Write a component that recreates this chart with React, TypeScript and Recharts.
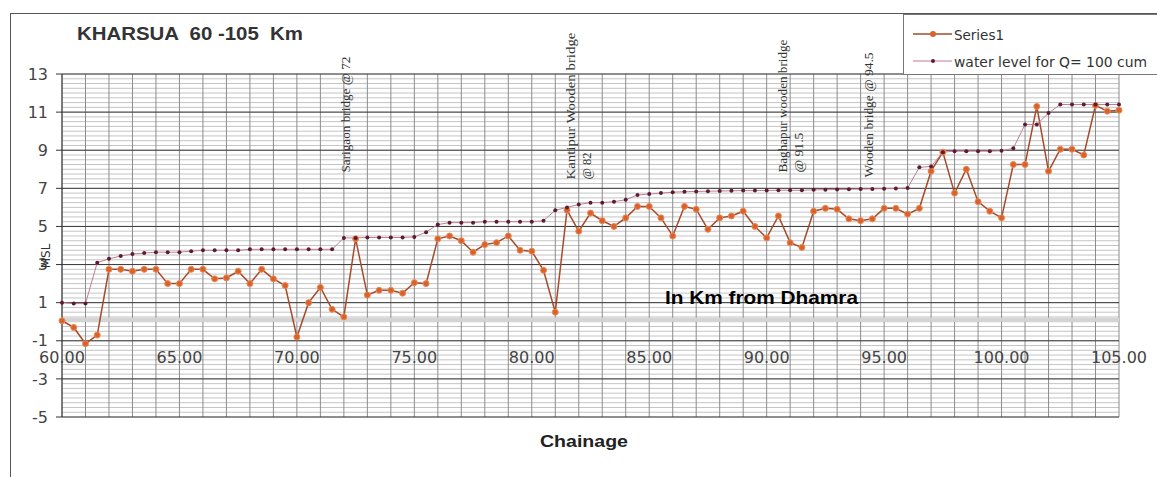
import React from 'react';
import { LineChart, Line, XAxis, YAxis, CartesianGrid, ReferenceLine, ReferenceDot } from 'recharts';

const chainage = [
  60, 60.5, 61, 61.5, 62, 62.5, 63, 63.5, 64, 64.5, 65, 65.5, 66, 66.5, 67, 67.5, 68, 68.5, 69, 69.5,
  70, 70.5, 71, 71.5, 72, 72.5, 73, 73.5, 74, 74.5, 75, 75.5, 76, 76.5, 77, 77.5, 78, 78.5, 79, 79.5,
  80, 80.5, 81, 81.5, 82, 82.5, 83, 83.5, 84, 84.5, 85, 85.5, 86, 86.5, 87, 87.5, 88, 88.5, 89, 89.5,
  90, 90.5, 91, 91.5, 92, 92.5, 93, 93.5, 94, 94.5, 95, 95.5, 96, 96.5, 97, 97.5, 98, 98.5, 99, 99.5,
  100, 100.5, 101, 101.5, 102, 102.5, 103, 103.5, 104, 104.5, 105,
];

const series1 = [
  0.05, -0.3, -1.15, -0.7, 2.75, 2.75, 2.65, 2.75, 2.75, 2.0, 2.0, 2.75, 2.75, 2.25, 2.3, 2.65, 2.0, 2.75, 2.25, 1.9,
  -0.8, 1.0, 1.8, 0.65, 0.25, 4.35, 1.4, 1.65, 1.65, 1.5, 2.05, 2.0, 4.35, 4.5, 4.25, 3.65, 4.05, 4.15, 4.5, 3.75,
  3.7, 2.7, 0.5, 5.85, 4.75, 5.7, 5.3, 5.0, 5.45, 6.05, 6.05, 5.45, 4.5, 6.05, 5.9, 4.85, 5.45, 5.55, 5.8, 5.0,
  4.4, 5.55, 4.15, 3.9, 5.8, 5.95, 5.9, 5.4, 5.3, 5.4, 5.95, 5.95, 5.65, 5.95, 7.9, 8.9, 6.75, 8.0, 6.3, 5.8,
  5.45, 8.25, 8.25, 11.3, 7.9, 9.05, 9.05, 8.75, 11.35, 11.05, 11.1,
];

const waterLevel = [
  1.0, 0.95, 0.95, 3.1, 3.3, 3.45, 3.55, 3.6, 3.65, 3.65, 3.65, 3.7, 3.75, 3.75, 3.75, 3.75, 3.8, 3.8, 3.8, 3.8,
  3.8, 3.8, 3.8, 3.8, 4.4, 4.4, 4.42, 4.42, 4.42, 4.42, 4.45, 4.7, 5.1, 5.2, 5.2, 5.2, 5.25, 5.25, 5.25, 5.25,
  5.25, 5.3, 5.85, 6.0, 6.15, 6.25, 6.25, 6.3, 6.4, 6.65, 6.7, 6.75, 6.8, 6.82, 6.84, 6.85, 6.86, 6.87, 6.88, 6.88,
  6.89, 6.9, 6.9, 6.9, 6.92, 6.93, 6.94, 6.95, 6.96, 6.97, 6.98, 6.99, 7.02, 8.1, 8.15, 8.9, 8.95, 8.95, 8.95, 8.95,
  8.97, 9.1, 10.35, 10.35, 10.95, 11.4, 11.4, 11.4, 11.4, 11.4, 11.4,
];

const xTicks = [60, 65, 70, 75, 80, 85, 90, 95, 100, 105];
const yTicks = [-5, -3, -1, 1, 3, 5, 7, 9, 11, 13];

// bridge annotations: chainage position, starting level, text lines
const bridgeKm = [72.24, 81.83, 90.86, 94.52];
const bridgeLevel = [7.83, 7.46, 7.83, 7.57];
const bridgeLine1 = ['Sarigaon bridge @ 72', 'Kantipur Wooden bridge', 'Baghapur wooden bridge', 'Wooden bridge @ 94.5'];
const bridgeLine2 = ['', '@ 82', '@ 91.5', ''];
const bridgeLen1 = [116, 147, 133, 125];
const bridgeLen2 = [0, 27, 40, 0];

const S1_LINE = '#A54B2C';
const S1_DOT = '#D8612C';
const WL_LINE = '#C07F90';
const WL_DOT = '#5C1A35';

const data = chainage.map((km, i) => ({ km, s1: series1[i], wl: waterLevel[i] }));

// grid helper values (axis subdivisions)
const minorY: number[] = [];
for (let v = -5; v <= 13.001; v += 0.25) minorY.push(Math.round(v * 100) / 100);
const gridX: number[] = [];
for (let k = 60; k <= 105; k += 1) gridX.push(k);

const CHART_W = 1157;
const CHART_H = 477;
const Y_AXIS_W = 50;
const X_AXIS_H = 20;
const X_LABEL_BASE = 363;
const LINE2_GAP = 16;

const XTick = (props: any) => {
  const { x, payload } = props;
  return (
    <text x={x} y={X_LABEL_BASE} textAnchor="middle" fontFamily="DejaVu Sans" fontSize={16} fill="#444">
      {Number(payload.value).toFixed(2)}
    </text>
  );
};

const makeBridgeShape = (i: number) => (props: any) => {
  const { cx, cy } = props;
  const x2 = cx + LINE2_GAP;
  return (
    <g>
      <text
        x={cx}
        y={cy}
        transform={`rotate(-90, ${cx}, ${cy})`}
        fontFamily="Liberation Serif"
        fontSize={13}
        fill="#333"
        textLength={bridgeLen1[i]}
        lengthAdjust="spacingAndGlyphs"
      >
        {bridgeLine1[i]}
      </text>
      {bridgeLine2[i] ? (
        <text
          x={x2}
          y={cy}
          transform={`rotate(-90, ${x2}, ${cy})`}
          fontFamily="Liberation Serif"
          fontSize={13}
          fill="#333"
          textLength={bridgeLen2[i]}
          lengthAdjust="spacingAndGlyphs"
        >
          {bridgeLine2[i]}
        </text>
      ) : null}
    </g>
  );
};

export default function App() {
  return (
    <div
      style={{
        position: 'fixed',
        left: 0,
        top: 0,
        width: CHART_W,
        height: CHART_H,
        overflow: 'hidden',
        background: '#fff',
      }}
    >
      <svg width={CHART_W} height={CHART_H} style={{ position: 'absolute', left: 0, top: 0 }}>
        <line x1={10.5} y1={13} x2={10.5} y2={477} stroke="#555" strokeWidth={1} />
        <line x1={10} y1={13.5} x2={1157} y2={13.5} stroke="#555" strokeWidth={1} />
      </svg>
      <div style={{ position: 'absolute', left: 0, top: 0 }}>
        <LineChart
          width={CHART_W}
          height={CHART_H}
          data={data}
          margin={{ top: 74, right: 38, bottom: CHART_H - 417 - X_AXIS_H, left: 62 - Y_AXIS_W }}
        >
          <CartesianGrid horizontal={true} vertical={false} horizontalValues={minorY} stroke="#c4c4c4" strokeWidth={1} />
          <CartesianGrid horizontal={false} vertical={true} verticalValues={gridX} stroke="#8c8c8c" strokeWidth={1} />
          <ReferenceLine y={0.1} stroke="#d4d4d4" strokeWidth={4} />
          <CartesianGrid horizontal={true} vertical={false} horizontalValues={yTicks} stroke="#3a3a3a" strokeWidth={1} />
          <XAxis
            type="number"
            dataKey="km"
            domain={[60, 105]}
            ticks={xTicks}
            interval={0}
            tick={<XTick />}
            axisLine={false}
            tickLine={false}
            height={X_AXIS_H}
          />
          <YAxis
            type="number"
            domain={[-5, 13]}
            ticks={yTicks}
            interval={0}
            width={Y_AXIS_W}
            tick={{ fontFamily: 'DejaVu Sans', fontSize: 16, fill: '#444' }}
            tickSize={6}
            tickMargin={8}
            axisLine={{ stroke: '#333' }}
            tickLine={{ stroke: '#333' }}
          />
          {bridgeKm.map((km, i) => (
            <ReferenceDot key={'b' + i} x={km} y={bridgeLevel[i]} r={0} shape={makeBridgeShape(i)} />
          ))}
          <Line
            type="linear"
            dataKey="s1"
            name="Series1"
            stroke={S1_LINE}
            strokeWidth={1.5}
            dot={{ r: 3, fill: S1_DOT, stroke: '#EC8A55', strokeWidth: 1 }}
            isAnimationActive={false}
          />
          <Line
            type="linear"
            dataKey="wl"
            name="water level for Q= 100 cum"
            stroke={WL_LINE}
            strokeWidth={1}
            dot={{ r: 2, fill: WL_DOT, stroke: 'none' }}
            isAnimationActive={false}
          />
        </LineChart>
      </div>
      <svg width={CHART_W} height={CHART_H} style={{ position: 'absolute', left: 0, top: 0, pointerEvents: 'none' }}>
        <text x={77} y={40} fontFamily="Liberation Sans" fontWeight="bold" fontSize={18} fill="#333" textLength={226} lengthAdjust="spacingAndGlyphs" style={{ whiteSpace: 'pre' }}>
          {'KHARSUA  60 -105  Km'}
        </text>
        <text x={665} y={304} fontFamily="Liberation Sans" fontWeight="bold" fontSize={19} fill="#000" textLength={193} lengthAdjust="spacingAndGlyphs">
          In Km from Dhamra
        </text>
        <text x={540} y={447} fontFamily="Liberation Sans" fontWeight="bold" fontSize={17} fill="#222" textLength={88} lengthAdjust="spacingAndGlyphs">
          Chainage
        </text>
        <text x={50} y={256} transform="rotate(-90, 50, 256)" textAnchor="middle" fontFamily="DejaVu Sans" fontSize={12} fill="#333">
          MSL
        </text>
        <rect x={903.5} y={14.5} width={260} height={60} fill="#fff" stroke="#777" strokeWidth={1} />
        <line x1={913} y1={34} x2={952} y2={34} stroke={S1_LINE} strokeWidth={1.5} />
        <circle cx={933} cy={34} r={3} fill={S1_DOT} />
        <text x={954} y={39.5} fontFamily="DejaVu Sans" fontSize={14} fill="#333" textLength={50} lengthAdjust="spacingAndGlyphs">
          Series1
        </text>
        <line x1={913} y1={61} x2={952} y2={61} stroke={WL_LINE} strokeWidth={1} />
        <circle cx={933} cy={61} r={2} fill={WL_DOT} />
        <text x={954} y={66.5} fontFamily="DejaVu Sans" fontSize={14} fill="#333" textLength={193} lengthAdjust="spacingAndGlyphs">
          water level for Q= 100 cum
        </text>
      </svg>
    </div>
  );
}
